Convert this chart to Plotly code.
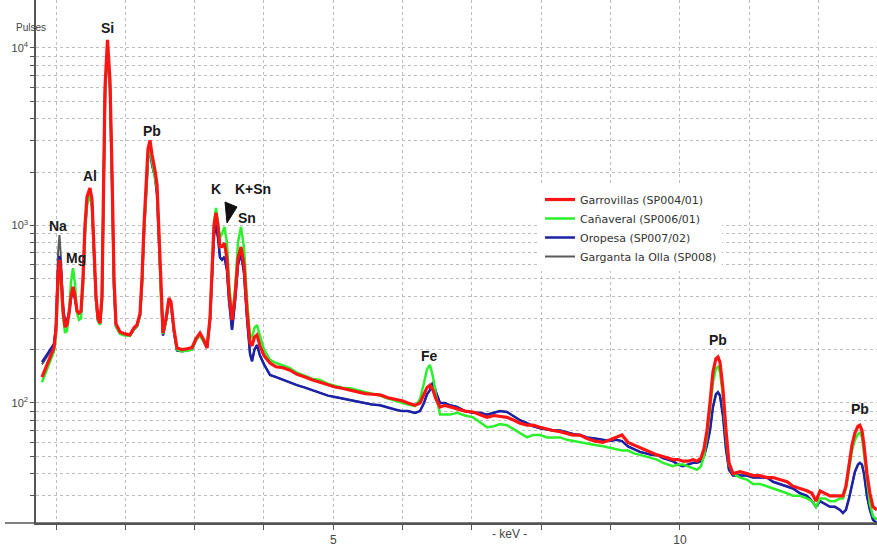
import math
import plotly.graph_objects as go

# Energy channels (keV)
energy_kev = [0.798, 0.856, 0.913, 0.971, 1.000, 1.029, 1.050, 1.072, 1.101, 1.130,
              1.159, 1.188, 1.216, 1.245, 1.274, 1.303, 1.332, 1.361, 1.389, 1.418,
              1.447, 1.490, 1.519, 1.548, 1.577, 1.606, 1.635, 1.663, 1.685, 1.707,
              1.743, 1.779, 1.808, 1.837, 1.865, 1.923, 1.995, 2.067, 2.125, 2.168,
              2.212, 2.240, 2.269, 2.298, 2.327, 2.356, 2.385, 2.428, 2.457, 2.486,
              2.515, 2.543, 2.587, 2.630, 2.659, 2.702, 2.745, 2.817, 2.890, 2.962,
              3.019, 3.077, 3.135, 3.178, 3.221, 3.250, 3.279, 3.308, 3.337, 3.365,
              3.394, 3.430, 3.466, 3.495, 3.539, 3.582, 3.625, 3.668, 3.712, 3.755,
              3.798, 3.827, 3.863, 3.899, 3.942, 4.000, 4.087, 4.173, 4.274, 4.375,
              4.476, 4.592, 4.692, 4.808, 4.923, 5.024, 5.125, 5.241, 5.356, 5.457,
              5.558, 5.673, 5.789, 5.890, 5.991, 6.077, 6.178, 6.250, 6.308, 6.351,
              6.394, 6.438, 6.481, 6.539, 6.611, 6.683, 6.784, 6.899, 7.015, 7.116,
              7.217, 7.318, 7.404, 7.505, 7.606, 7.693, 7.794, 7.880, 7.981, 8.082,
              8.169, 8.270, 8.371, 8.457, 8.558, 8.659, 8.774, 8.890, 8.991, 9.077,
              9.164, 9.250, 9.337, 9.423, 9.510, 9.597, 9.669, 9.755, 9.827, 9.899,
              9.972, 10.044, 10.116, 10.188, 10.245, 10.303, 10.346, 10.390, 10.433, 10.476,
              10.519, 10.548, 10.577, 10.620, 10.664, 10.707, 10.765, 10.866, 10.967, 11.053,
              11.154, 11.255, 11.342, 11.443, 11.544, 11.630, 11.731, 11.832, 11.904, 11.962,
              12.020, 12.092, 12.164, 12.236, 12.308, 12.351, 12.394, 12.438, 12.481, 12.524,
              12.568, 12.596, 12.625, 12.654, 12.697, 12.740, 12.784, 12.842]

garrovillas = [140, 160, 180, 205, 260, 520, 640, 520, 330, 268,
               275, 320, 400, 451, 400, 330, 321, 330, 500, 1000,
               1450, 1626, 1400, 800, 400, 300, 282, 400, 2000, 6000,
               11100, 6500, 2000, 500, 280, 251, 245, 242, 265, 275,
               320, 500, 1000, 1800, 2700, 3020, 2500, 2040, 1700, 900,
               400, 248, 300, 390, 370, 260, 204, 200, 202, 205,
               230, 248, 225, 204, 300, 600, 1000, 1180, 1000, 757,
               760, 795, 650, 420, 293, 400, 650, 757, 600, 330,
               218, 210, 235, 242, 210, 185, 168, 160, 158, 153,
               145, 140, 135, 131, 126, 123, 121, 118, 116, 113,
               112, 111, 107, 105, 103, 100, 97, 100, 112, 122,
               126, 118, 105, 95, 97, 95, 93, 90, 89, 86,
               83, 85, 84, 83, 80, 77, 75, 75, 73, 71,
               70, 69, 67, 66, 66, 63, 61, 60, 62, 64,
               66, 60, 58, 56, 54, 52, 51, 50, 49, 48,
               48, 47, 47, 48, 47, 49, 55, 70, 100, 150,
               178, 182, 170, 120, 70, 46, 40, 41, 40, 39,
               39, 38, 38, 37, 36, 34, 33, 32, 31, 28,
               32, 31, 30, 30, 30, 30, 34, 45, 58, 68,
               74, 75, 70, 58, 40, 31, 26, 25]

canaveral = [131, 150, 170, 195, 240, 450, 560, 470, 310, 248,
             255, 330, 480, 575, 470, 320, 294, 300, 450, 900,
             1300, 1480, 1300, 750, 380, 290, 275, 380, 1800, 5500,
             10000, 6000, 1800, 450, 270, 245, 240, 240, 260, 270,
             310, 470, 900, 1600, 2400, 2660, 2300, 1950, 1600, 850,
             380, 245, 290, 380, 360, 255, 200, 195, 198, 200,
             225, 240, 220, 210, 300, 620, 1050, 1255, 1050, 850,
             900, 980, 800, 480, 300, 430, 800, 980, 750, 380,
             240, 235, 265, 275, 240, 200, 175, 168, 163, 157,
             148, 142, 137, 135, 128, 125, 122, 121, 118, 116,
             113, 110, 106, 103, 100, 98, 96, 105, 130, 155,
             164, 140, 110, 86, 86, 86, 88, 85, 83, 78,
             73, 74, 76, 75, 71, 67, 64, 66, 66, 64,
             64, 64, 62, 61, 60, 59, 58, 57, 56, 55,
             54, 54, 52, 51, 50, 49, 48, 46, 45, 44,
             45, 45, 44, 43, 42, 44, 50, 65, 90, 130,
             157, 160, 150, 110, 65, 45, 40, 38, 37, 35,
             35, 34, 33, 32, 31, 30, 30, 29, 28, 26,
             29, 29, 28, 28, 29, 29, 33, 42, 54, 62,
             67, 68, 64, 52, 36, 27, 23, 22]

oropesa = [170, 185, 200, 215, 270, 560, 673, 560, 350, 282,
           290, 320, 390, 433, 385, 330, 321, 325, 480, 950,
           1350, 1480, 1300, 750, 380, 290, 280, 380, 1800, 5500,
           10000, 6000, 1800, 450, 270, 248, 242, 240, 260, 270,
           310, 470, 900, 1600, 2400, 2660, 2200, 1880, 1500, 800,
           380, 240, 290, 380, 360, 250, 198, 196, 198, 200,
           228, 245, 220, 205, 290, 550, 880, 1010, 850, 660,
           640, 665, 560, 380, 258, 370, 600, 700, 540, 300,
           190, 172, 200, 212, 185, 165, 144, 140, 135, 131,
           126, 122, 118, 114, 110, 108, 106, 104, 101, 100,
           98, 97, 94, 92, 90, 90, 88, 90, 100, 112,
           118, 131, 115, 100, 100, 97, 95, 90, 88, 88,
           86, 88, 90, 89, 84, 80, 77, 74, 72, 71,
           70, 70, 68, 67, 66, 64, 63, 62, 61, 62,
           61, 57, 55, 53, 52, 51, 51, 49, 48, 47,
           45, 44, 45, 46, 46, 47, 50, 58, 70, 95,
           112, 115, 110, 85, 55, 42, 39, 39, 39, 38,
           38, 38, 36, 35, 34, 33, 31, 30, 28, 26,
           28, 27, 26, 26, 25, 24, 25, 29, 35, 41,
           45, 46, 45, 40, 30, 25, 22, 21]

garganta = [165, 180, 195, 210, 280, 700, 884, 650, 360, 285,
            290, 320, 390, 440, 390, 330, 321, 325, 480, 950,
            1350, 1480, 1300, 750, 380, 290, 280, 380, 1800, 5500,
            10000, 6000, 1800, 450, 270, 248, 242, 240, 260, 270,
            310, 470, 900, 1600, 2400, 2660, 2200, 1880, 1500, 800,
            380, 240, 290, 380, 360, 250, 198, 196, 198, 200,
            228, 245, 220, 205, 290, 550, 880, 1010, 850, 660,
            640, 665, 560, 380, 258, 370, 600, 700, 540, 300,
            190, 172, 200, 212, 185, 165, 144, 140, 135, 131,
            126, 122, 118, 114, 110, 108, 106, 104, 101, 100,
            98, 97, 94, 92, 90, 90, 88, 90, 100, 112,
            118, 131, 115, 100, 100, 97, 95, 90, 88, 88,
            86, 88, 90, 89, 84, 80, 77, 74, 72, 71,
            70, 70, 68, 67, 66, 64, 63, 62, 61, 62,
            61, 57, 55, 53, 52, 51, 51, 49, 48, 47,
            45, 44, 45, 46, 46, 47, 50, 58, 70, 95,
            112, 115, 110, 85, 55, 42, 39, 39, 39, 38,
            38, 38, 36, 35, 34, 33, 31, 30, 28, 26,
            28, 27, 26, 26, 25, 24, 25, 29, 35, 41,
            45, 46, 45, 40, 30, 25, 22, 21]

series_names = ["Garrovillas (SP004/01)", "Cañaveral (SP006/01)",
                "Oropesa (SP007/02)", "Garganta la Olla (SP008)"]
series_colors = ["#ff1414", "#2cf02c", "#1c22a8", "#5a5a5a"]
series_widths = [3.2, 2.5, 2.5, 2]

x_major_vals = [5, 10]
x_minor_vals = [1, 2, 3, 4, 5, 6, 7, 8, 9, 10, 11, 12]

y_major_vals = [100, 1000, 10000]
y_major_text = ["10<sup>2</sup>", "10<sup>3</sup>", "10<sup>4</sup>"]
y_minor_vals = [20, 30, 40, 50, 60, 70, 80, 90,
                200, 300, 400, 500, 600, 700, 800, 900,
                2000, 3000, 4000, 5000, 6000, 7000, 8000, 9000]

# peak labels: (text, keV, counts)
peak_labels = [("Si", 1.736, 13000), ("Pb", 2.385, 3400), ("Al", 1.490, 1900),
               ("Na", 1.029, 990), ("Mg", 1.288, 655), ("K", 3.308, 1610),
               ("K+Sn", 3.841, 1610), ("Sn", 3.755, 1100), ("Fe", 6.394, 184),
               ("Pb", 10.548, 226), ("Pb", 12.596, 92)]

fig = go.Figure()
all_vals = [garrovillas, canaveral, oropesa, garganta]
for i in [3, 2, 1, 0]:
    fig.add_trace(go.Scatter(
        x=energy_kev, y=all_vals[i], mode="lines", name=series_names[i],
        line=dict(color=series_colors[i], width=series_widths[i]),
    ))

W, H = 877, 547
L, B, T = 36, 24, 0
pw, ph = W - L, H - B - T


def px2paper(px, py):
    return (px - L) / pw, 1 - (py - T) / ph


FONT = "Liberation Sans, Arial"
annotations = []
for txt, e, c in peak_labels:
    annotations.append(dict(x=e, y=math.log10(c), xref="x", yref="y",
                            text="<b>" + txt + "</b>", showarrow=False,
                            font=dict(size=14, color="#1a1a1a", family=FONT),
                            xanchor="center", yanchor="middle"))

px_, py_ = px2paper(31, 28)
annotations.append(dict(x=px_, y=py_, xref="paper", yref="paper", text="Pulses",
                        showarrow=False, xanchor="center", yanchor="middle",
                        font=dict(size=10, color="#444", family=FONT)))
kx, ky = px2paper(510, 534)
annotations.append(dict(x=kx, y=ky, xref="paper", yref="paper", text="- keV -",
                        showarrow=False, xanchor="center", yanchor="middle",
                        font=dict(size=12, color="#444", family=FONT)))

# arrow triangle (paper coords)
p1 = px2paper(225, 202)
p2 = px2paper(237, 207)
p3 = px2paper(227, 223)
path = f"M {p1[0]},{p1[1]} L {p2[0]},{p2[1]} L {p3[0]},{p3[1]} Z"
a0 = px2paper(5, 523)

shapes = [
    dict(type="path", path=path, xref="paper", yref="paper",
         fillcolor="#111", line=dict(color="#111", width=1)),
    dict(type="line", xref="paper", yref="paper", x0=a0[0], x1=1, y0=0, y1=0,
         line=dict(color="#555", width=1.5)),
]

lx, ly = px2paper(540, 185)

grid_style = dict(showgrid=True, gridcolor="#bdbdbd", griddash="dot", gridwidth=1)

fig.update_layout(
    width=W, height=H,
    margin=dict(l=L, r=0, t=T, b=B),
    paper_bgcolor="white", plot_bgcolor="white",
    font=dict(family=FONT, color="#444"),
    showlegend=True,
    legend=dict(x=lx, y=ly, xanchor="left", yanchor="top", traceorder="reversed",
                bgcolor="white", font=dict(size=11, color="#333", family="DejaVu Sans"),
                tracegroupgap=0, itemwidth=30),
    annotations=annotations,
    shapes=shapes,
    xaxis=dict(range=[0.7115, 12.842], tickmode="array", tickvals=x_major_vals,
               ticktext=["5", "10"], ticks="outside", ticklen=5, tickcolor="#555",
               showline=True, linecolor="#555", linewidth=1.5, zeroline=False,
               tickfont=dict(size=12, color="#444"), **grid_style,
               minor=dict(tickmode="array", tickvals=x_minor_vals, ticks="outside",
                          ticklen=5, tickcolor="#555", **grid_style)),
    yaxis=dict(type="log", range=[1.324, 4.270], tickmode="array",
               tickvals=y_major_vals, ticktext=y_major_text, ticks="outside",
               ticklen=4, tickcolor="#555", showline=True, linecolor="#555",
               linewidth=1.5, zeroline=False,
               tickfont=dict(size=11, color="#444"), **grid_style,
               minor=dict(tickmode="array", tickvals=y_minor_vals, ticks="outside",
                          ticklen=4, tickcolor="#555", **grid_style)),
)

fig.write_html("out.html")
